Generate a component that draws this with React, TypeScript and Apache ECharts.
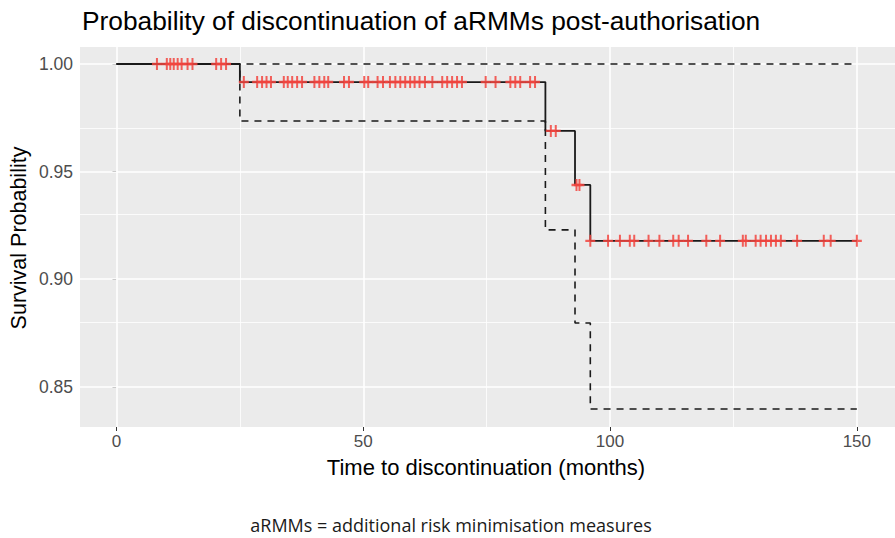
import React, { useEffect, useRef } from "react";
import * as echarts from "echarts";

// Kaplan–Meier step estimate and 95% confidence band (step changes at these times)
const stepTimes = [0, 25.0, 86.9, 92.9, 96.0, 150];
const survProb = [1, 0.9916, 0.9689, 0.9438, 0.9178, 0.9178];
const upperCI = [1, 1, 1, 1, 1, 1];
const lowerCI = [1, 0.9735, 0.9229, 0.8796, 0.8397, 0.8397];

// Censored observations (months)
const censorTimes = [
  8.2, 10.2, 10.9, 11.6, 12.4, 13.2, 14.4, 15.4, 20.2, 21.2, 22.2,
  25.8, 28.5, 29.5, 30.4, 31.3, 33.9, 34.7, 35.6, 36.6, 37.6, 40.1, 41.1, 42.1, 42.9,
  46.1, 47.1, 50.2, 51.0, 52.9, 54.0, 55.4, 56.5, 57.5, 58.5, 59.5, 60.4, 61.4, 62.5,
  64.0, 66.0, 67.0, 68.0, 69.0, 70.0, 74.8, 76.8, 79.8, 80.8, 81.8, 83.8, 84.8,
  88.0, 89.0,
  93.2, 93.8,
  96.0, 99.6, 102.0, 104.0, 104.9, 107.8, 110.0, 112.8, 113.9, 115.8, 119.5, 122.3,
  126.9, 127.5, 129.5, 130.5, 131.6, 132.6, 133.6, 134.6, 137.9, 143.3, 144.7, 150,
];

const xTicks = [0, 50, 100, 150];
const xMinorTicks = [25, 75, 125];
const yTicks = [0.85, 0.9, 0.95, 1.0];
const yMinorTicks = [0.875, 0.925, 0.975];

const X_MIN = -7.39;
const X_MAX = 157.73;
const Y_MIN = 0.8313;
const Y_MAX = 1.0079;

const FONT = "Liberation Sans";

function survivalAt(t: number): number {
  let s = survProb[0];
  for (let i = 0; i < stepTimes.length; i++) {
    if (t >= stepTimes[i]) s = survProb[i];
  }
  return s;
}

const zip = (xs: number[], ys: number[]) => xs.map((x, i) => [x, ys[i]]);

export default function App() {
  const ref = useRef<HTMLDivElement>(null);

  useEffect(() => {
    document.body.style.margin = "0";
    if (!ref.current) return;
    const chart = echarts.init(ref.current, undefined, { renderer: "svg" });

    const gridLines = [
      ...xTicks.map((v) => ({ xAxis: v, lineStyle: { width: 1.6 } })),
      ...yTicks.map((v) => ({ yAxis: v, lineStyle: { width: 1.6 } })),
      ...xMinorTicks.map((v) => ({ xAxis: v, lineStyle: { width: 0.8 } })),
      ...yMinorTicks.map((v) => ({ yAxis: v, lineStyle: { width: 0.8 } })),
    ];

    const option: any = {
      animation: false,
      backgroundColor: "#ffffff",
      grid: {
        left: 80,
        top: 47,
        width: 820,
        height: 380,
        show: true,
        backgroundColor: "#EBEBEB",
        borderWidth: 0,
      },
      xAxis: {
        type: "value",
        min: X_MIN,
        max: X_MAX,
        axisLine: { show: false },
        splitLine: { show: false },
        axisTick: {
          show: true,
          customValues: xTicks,
          length: 4,
          lineStyle: { color: "#333333", width: 1 },
        },
        axisLabel: {
          customValues: xTicks,
          color: "#4D4D4D",
          fontSize: 17,
          fontFamily: FONT,
          margin: 6,
        },
      },
      yAxis: {
        type: "value",
        min: Y_MIN,
        max: Y_MAX,
        axisLine: { show: false },
        splitLine: { show: false },
        axisTick: {
          show: true,
          customValues: yTicks,
          length: 4,
          lineStyle: { color: "#333333", width: 1 },
        },
        axisLabel: {
          customValues: yTicks,
          color: "#4D4D4D",
          fontSize: 17.5,
          fontFamily: FONT,
          margin: 7,
          formatter: (v: number) => v.toFixed(2),
        },
      },
      series: [
        {
          name: "grid",
          type: "line",
          data: [[0, 1]],
          showSymbol: false,
          lineStyle: { opacity: 0 },
          silent: true,
          z: 1,
          markLine: {
            silent: true,
            symbol: "none",
            z: 1,
            label: { show: false },
            lineStyle: { color: "#ffffff", type: "solid" },
            data: gridLines,
          },
        },
        {
          name: "upper",
          type: "line",
          step: "end",
          data: zip(stepTimes, upperCI),
          showSymbol: false,
          lineStyle: { color: "#1a1a1a", width: 1.6, type: [7, 6] },
          z: 3,
        },
        {
          name: "lower",
          type: "line",
          step: "end",
          data: zip(stepTimes, lowerCI),
          showSymbol: false,
          lineStyle: { color: "#1a1a1a", width: 1.6, type: [7, 6] },
          z: 3,
        },
        {
          name: "survival",
          type: "line",
          step: "end",
          data: zip(stepTimes, survProb),
          showSymbol: false,
          lineStyle: { color: "#1a1a1a", width: 1.8 },
          z: 4,
        },
        {
          name: "censored",
          type: "scatter",
          data: censorTimes.map((t) => [t, survivalAt(t)]),
          symbol: "path://M4,0H6V4H10V6H6V10H4V6H0V4H4Z",
          symbolSize: [10, 12],
          itemStyle: { color: "#F2453F", opacity: 0.85 },
          z: 5,
        },
      ],
      graphic: [
        {
          type: "text",
          x: 82,
          y: 21,
          style: {
            text: "Probability of discontinuation of aRMMs post-authorisation",
            fontSize: 26.3,
            fontFamily: FONT,
            fill: "#000000",
            verticalAlign: "middle",
          },
        },
        {
          type: "text",
          x: 19,
          y: 238,
          rotation: Math.PI / 2,
          style: {
            text: "Survival Probability",
            fontSize: 21.5,
            fontFamily: FONT,
            fill: "#000000",
            align: "center",
            verticalAlign: "middle",
          },
        },
        {
          type: "text",
          x: 486,
          y: 467,
          style: {
            text: "Time to discontinuation (months)",
            fontSize: 22,
            fontFamily: FONT,
            fill: "#000000",
            align: "center",
            verticalAlign: "middle",
          },
        },
        {
          type: "text",
          x: 451,
          y: 525,
          style: {
            text: "aRMMs = additional risk minimisation measures",
            fontSize: 18,
            fontFamily: "Open Sans",
            fill: "#1a1a1a",
            align: "center",
            verticalAlign: "middle",
          },
        },
      ],
    };

    chart.setOption(option);
    return () => chart.dispose();
  }, []);

  return (
    <div
      ref={ref}
      style={{ position: "absolute", left: 0, top: 0, width: 895, height: 538 }}
    />
  );
}
